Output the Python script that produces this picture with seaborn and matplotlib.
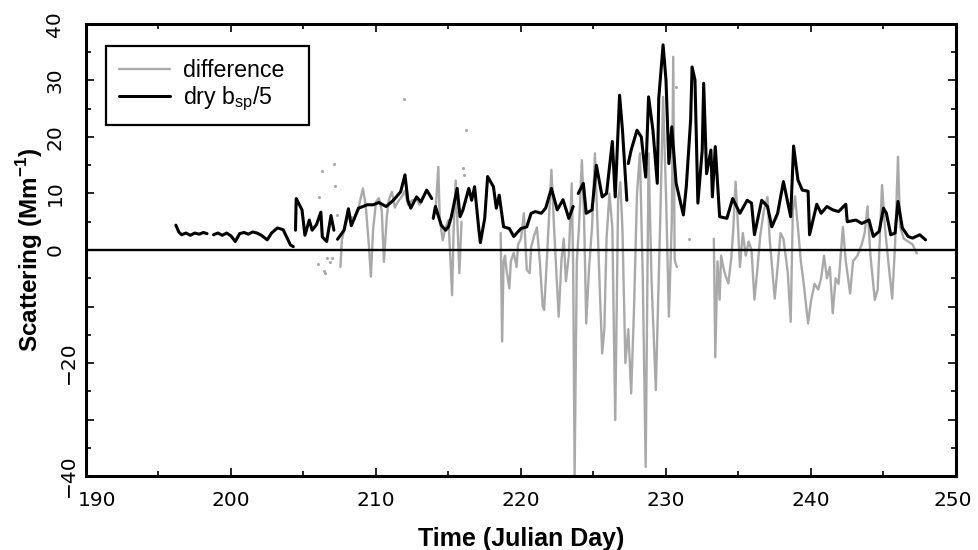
import numpy as np
import pandas as pd
import matplotlib
matplotlib.use("Agg")
import matplotlib.pyplot as plt
import matplotlib.transforms as mtrans
import seaborn as sns
from matplotlib.lines import Line2D
from matplotlib.ticker import MultipleLocator

# ---------------- data ----------------
# dry b_sp/5 (black line); None marks a data gap
dry_day = [196.2, 196.4, 196.6, 196.9, 197.2, 197.5, 197.8, 198.1, 198.35, None,
           198.8, 199.1, 199.4, 199.7, 200.0, 200.3, 200.6, 200.9, 201.2, 201.5, 201.8,
           202.1, 202.5, 202.8, 203.2, 203.6, 204.1, 204.3, None,
           204.45, 204.5, 204.9, 205.1, 205.4, 205.6, 205.9, 206.2, 206.3, 206.6, 206.9, 207.1, None,
           207.35, 207.8, 208.1, 208.3, 208.8, 209.4, 209.8, 210.2, 210.7, 211.2, 211.7,
           212.0, 212.2, 212.4, 212.8, 213.1, 213.5, 213.85, None,
           213.95, 214.1, 214.5, 214.8, 215.0, 215.2, 215.6, 215.8, 216.0, 216.4, 216.6,
           216.8, 217.1, 217.2, 217.5, 217.7, 218.1, 218.3, 218.5, 218.8, 219.2, 219.5,
           220.0, 220.4, 220.7, 221.0, 221.4, 221.7, 222.1, 222.5, 222.9, 223.3, 223.6, None,
           223.95, 224.3, 224.5, 224.9, 225.2, 225.6, 225.9, 226.3, 226.5, 226.8, 227.0, 227.3, None,
           227.4, 227.6, 228.0, 228.3, 228.6, 228.8, 229.1, 229.4, 229.5, 229.8, 230.0,
           230.2, 230.4, 230.7, 231.2, 231.4, 231.7, 231.8, 232.0, 232.2, 232.5, 232.6,
           232.8, 233.1, 233.2, 233.4, 233.7, 234.2, 234.6, 235.1, 235.6, 235.9, 236.1,
           236.6, 237.0, 237.3, 237.7, 238.1, 238.6, 238.8, 239.1, 239.4, 239.8, 239.9,
           240.4, 240.7, 241.1, 241.5, 241.9, 242.4, 242.5, 243.1, 243.5, 244.0, 244.3,
           244.7, 245.0, 245.2, 245.5, 245.8, 246.0, 246.3, 246.7, 247.0, 247.5, 247.9]
dry_val = [4.4, 3.2, 2.7, 3.0, 2.6, 3.0, 2.8, 3.1, 2.9, None,
           2.7, 3.0, 2.6, 3.0, 2.5, 1.5, 2.9, 3.1, 2.8, 3.2, 3.0,
           2.6, 1.8, 3.0, 3.9, 3.6, 0.9, 0.6, None,
           3.5, 9.1, 7.1, 2.6, 5.3, 3.5, 4.5, 6.7, 2.3, 1.5, 6.1, 3.5, None,
           1.9, 3.5, 7.3, 4.3, 7.4, 8.0, 8.0, 8.4, 7.7, 8.8, 10.3,
           13.3, 8.8, 7.4, 9.4, 8.5, 10.6, 9.1, None,
           5.6, 7.7, 4.4, 3.5, 4.1, 5.9, 10.9, 5.9, 7.1, 10.9, 8.8,
           11.2, 3.5, 1.3, 5.6, 13.0, 11.2, 7.4, 9.7, 4.1, 3.8, 2.4,
           3.8, 4.1, 6.5, 6.8, 6.5, 7.4, 10.9, 7.1, 8.9, 5.6, 7.7, None,
           10.0, 11.8, 6.5, 7.1, 15.0, 9.4, 10.0, 19.2, 9.4, 27.4, 21.2, 8.8, None,
           15.3, 17.7, 21.2, 20.0, 12.9, 27.1, 21.2, 11.8, 26.8, 36.3, 30.1,
           15.3, 21.8, 11.8, 6.2, 11.2, 23.0, 32.4, 30.1, 8.3, 17.7, 29.5,
           13.5, 17.7, 9.4, 18.3, 5.9, 5.6, 9.1, 6.5, 8.8, 8.3, 2.7,
           8.8, 7.7, 4.1, 6.5, 12.1, 5.9, 18.4, 12.4, 10.6, 10.4, 2.7,
           8.1, 6.5, 7.7, 7.1, 6.8, 8.1, 5.0, 5.3, 4.7, 5.3, 2.4,
           3.3, 7.4, 6.5, 2.7, 3.0, 8.6, 3.9, 2.4, 2.1, 2.7, 1.8]

# difference (gray line); None marks a data gap
diff_day = [207.55, 207.65, 207.8, 208.0, 208.2, 208.5, 208.8, 209.1, 209.3, 209.5,
            209.65, 209.8, 210.0, 210.2, 210.4, 210.55, 210.75, 210.9, 211.1, 211.3,
            211.5, 211.8, 212.0, 212.2, 212.5, 212.8, 213.0, 213.3, None,
            214.1, 214.3, 214.4, 214.6, 214.8, 215.0, 215.25, 215.35, 215.5, 215.6, 215.75, 215.9, None,
            218.6, 218.7, 218.8, 218.9, 219.0, 219.2, 219.3, 219.5, 219.7, 219.8, 220.0,
            220.2, 220.4, 220.6, 220.7, 220.9, 221.1, 221.3, 221.5, 221.6, 221.8, 222.1,
            222.3, 222.6, 222.8, 222.95, 223.1, 223.3, 223.5, 223.6, 223.7, 223.85, 224.0,
            224.2, 224.35, 224.5, 224.7, 224.9, 225.1, 225.3, 225.45, 225.6, 225.75, 225.9,
            226.1, 226.3, 226.5, 226.7, 226.85, 227.0, 227.2, 227.4, 227.6, 227.8, 228.0,
            228.2, 228.4, 228.6, 228.8, 229.0, 229.15, 229.3, 229.45, 229.6, 229.8, 230.0,
            230.2, 230.4, 230.5, 230.6, 230.75, None,
            233.3, 233.4, 233.55, 233.7, 233.8, 233.95, 234.1, 234.3, 234.5, 234.65, 234.8,
            234.95, 235.1, 235.3, 235.5, 235.7, 235.9, 236.1, 236.3, 236.5, 236.75, 237.0,
            237.15, 237.5, 237.7, 237.9, 238.1, 238.4, 238.6, 238.75, 238.9, 239.1, 239.3,
            239.5, 239.8, 240.0, 240.25, 240.5, 240.7, 240.9, 241.1, 241.3, 241.5, 241.7,
            241.9, 242.2, 242.4, 242.7, 242.9, 243.2, 243.5, 243.7, 243.9, 244.1, 244.4,
            244.6, 244.9, 245.1, 245.35, 245.6, 245.8, 246.0, 246.15, 246.4, 246.7, 247.0, 247.3]
diff_val = [-3.0, 1.8, 3.5, 5.3, 6.0, 5.5, 7.5, 10.9, 7.7, 1.2,
            -4.7, 3.5, 8.5, 9.2, 7.0, -2.1, 6.0, 9.0, 10.3, 7.5,
            8.5, 9.5, 10.5, 8.0, 8.8, 9.0, 8.0, 9.5, None,
            6.5, 14.7, 5.5, 1.7, 4.0, 5.3, -8.0, 3.0, 12.3, 6.0, -4.1, 5.0, None,
            3.0, -16.2, -2.0, -1.0, -3.5, -6.8, -2.0, -0.5, -3.0, 1.0, 2.0,
            6.5, -3.5, -4.1, 0.5, 2.5, 4.0, -2.0, -10.0, -10.6, -1.0, 14.2,
            3.0, -11.8, -1.5, 2.0, -5.5, -1.0, 11.8, -3.0, -40.0, -2.0, 4.0,
            15.9, 6.0, -13.0, -3.0, 4.0, 17.1, 3.0, -8.0, -18.3, -14.0, 2.0,
            10.0, 4.0, -30.1, 9.0, 12.0, 3.5, -20.0, -14.0, -25.4, -10.0, 10.0,
            17.1, -5.0, -38.4, 17.1, -5.0, -15.0, -24.8, -10.0, 5.0, 27.1, 10.0,
            -11.8, 5.0, 34.2, -1.8, -3.0, None,
            2.0, -19.0, -2.0, -8.8, -1.0, -3.0, -4.5, -5.9, -1.5, 4.0, 12.1,
            5.0, -3.0, 3.0, -1.0, 1.5, 0.0, -8.8, -3.5, 2.5, 7.0, 9.4,
            2.0, -8.6, -3.0, 3.0, 2.0, -4.0, -12.7, 7.0, 9.5, 4.0, -2.0,
            -6.0, -13.0, -9.0, -6.0, -7.0, -5.0, -1.0, -5.0, -3.0, -11.2, -5.0,
            -6.0, 4.1, -2.0, -7.7, -2.0, -1.0, 1.0, 3.0, 7.7, -1.0, -8.8,
            -7.0, 11.5, 4.0, -2.5, -8.6, 1.0, 16.5, 4.0, 2.0, 1.5, 1.0, -0.6]

# isolated points of the difference series
dot_day = [206.0, 206.1, 206.3, 206.4, 206.5, 206.6, 206.8, 207.0, 207.1, 207.2, 207.3,
           211.9, 216.0, 216.1, 216.2, 230.7, 231.6]
dot_val = [-2.4, 9.4, 13.9, -3.8, -4.1, -1.5, -2.2, -1.4, 15.2, 11.4, 6.2,
           26.7, 14.5, 13.3, 21.2, 28.9, 1.9]

x_ticks = [190, 200, 210, 220, 230, 240, 250]
y_ticks = [-40, -30, -20, -10, 0, 10, 20, 30, 40]
y_ticklabels = ["\u221240", "", "\u221220", "", "0", "10", "20", "30", "40"]


def to_frame(days, vals):
    d = pd.DataFrame({"day": pd.to_numeric(pd.Series(days), errors="coerce"),
                      "val": pd.to_numeric(pd.Series(vals), errors="coerce")})
    d["seg"] = d["day"].isna().cumsum()
    return d.dropna()


dry_df = to_frame(dry_day, dry_val)
diff_df = to_frame(diff_day, diff_val)
dot_df = pd.DataFrame({"day": dot_day, "val": dot_val})

# ---------------- styling ----------------
sns.set_theme(style="ticks")
plt.rcParams["font.family"] = ["Liberation Sans", "DejaVu Sans"]
plt.rcParams["mathtext.fontset"] = "custom"
plt.rcParams["mathtext.rm"] = "Liberation Sans"
plt.rcParams["mathtext.bf"] = "Liberation Sans:bold"
plt.rcParams["text.color"] = "black"
plt.rcParams["axes.labelcolor"] = "black"
plt.rcParams["xtick.color"] = "black"
plt.rcParams["ytick.color"] = "black"

fig = plt.figure(figsize=(9.79, 5.5), dpi=100)
ax = fig.add_axes([0.0878, 0.1345, 0.8887, 0.8219])

GRAY = "#a9a9a9"

sns.lineplot(data=diff_df, x="day", y="val", units="seg", estimator=None, sort=False,
             color=GRAY, linewidth=1.7, ax=ax, legend=False)
sns.scatterplot(data=dot_df, x="day", y="val", color=GRAY, s=5, linewidth=0,
                ax=ax, legend=False)
sns.lineplot(data=dry_df, x="day", y="val", units="seg", estimator=None, sort=False,
             color="black", linewidth=2.2, ax=ax, legend=False)
ax.axhline(0, color="black", linewidth=1.7, zorder=5)

tick_font = {"family": ["DejaVu Sans"], "size": 14.5, "color": "black"}
ax.set_xlim(190, 250)
ax.set_ylim(-40, 40)
ax.set_xticks(x_ticks)
ax.set_xticklabels([str(t) for t in x_ticks], fontdict=tick_font)
ax.set_yticks(y_ticks)
ax.set_yticklabels(y_ticklabels, fontdict=tick_font, rotation=90, va="center")
ax.xaxis.set_minor_locator(MultipleLocator(5))
ax.yaxis.set_minor_locator(MultipleLocator(5))
ax.tick_params(which="both", direction="in", top=True, right=True, width=1.2,
               color="black", labelcolor="black")
ax.tick_params(which="major", length=6)
ax.tick_params(which="minor", length=3.8)
ax.tick_params(axis="x", which="major", pad=11)
ax.tick_params(axis="y", which="major", pad=6)
for s in ax.spines.values():
    s.set_linewidth(2.2)
    s.set_color("black")

ax.set_xlabel("Time (Julian Day)", fontsize=18, fontweight="bold", labelpad=12, color="black")
ax.set_ylabel(r"Scattering (Mm$^{\mathbf{-1}}$)", fontsize=17.5, fontweight="bold", color="black")
ax.yaxis.set_label_coords(-0.047, 0.5)

handles = [Line2D([], [], color=GRAY, linewidth=1.7),
           Line2D([], [], color="black", linewidth=2.2)]
leg = ax.legend(handles, ["difference  ", r"dry b$_{\mathregular{sp}}$/5"],
                loc="upper left", bbox_to_anchor=(0.023, 0.951), fontsize=16.7,
                frameon=True, fancybox=False, handlelength=2.2, handletextpad=0.55,
                borderpad=0.55, labelspacing=0.1, borderaxespad=0)
leg.get_frame().set_edgecolor("black")
leg.get_frame().set_linewidth(1.6)
leg.get_frame().set_alpha(1)
for t in leg.get_texts():
    t.set_color("black")


def shift(text, dx_pt, dy_pt=0):
    off = mtrans.ScaledTranslation(dx_pt / 72.0, dy_pt / 72.0, fig.dpi_scale_trans)
    text.set_transform(text.get_transform() + off)


# first/last x labels nudged inward like the reference; positive y labels sit further left
xt = ax.xaxis.get_major_ticks()
shift(xt[0].label1, 8)
shift(xt[-1].label1, -2.5)
for tk, val in zip(ax.yaxis.get_major_ticks(), y_ticks):
    if val >= 0:
        shift(tk.label1, -9.5)

fig.savefig("out.png", dpi=100)
